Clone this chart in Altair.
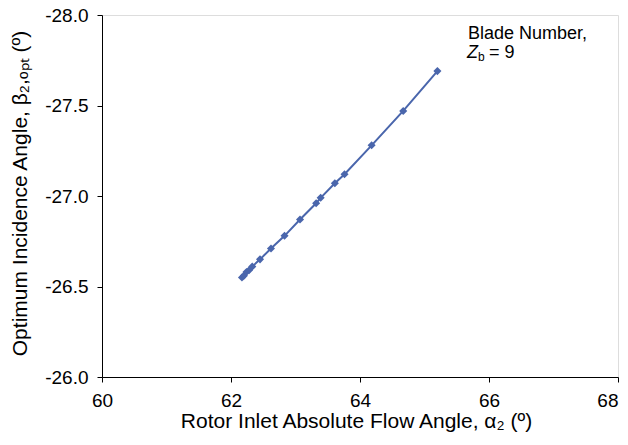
import altair as alt
import pandas as pd

alpha2 = [62.17, 62.20, 62.24, 62.28, 62.33, 62.45, 62.62, 62.83, 63.07, 63.32,
          63.39, 63.61, 63.76, 64.18, 64.67, 65.20]
beta2 = [-26.55, -26.56, -26.58, -26.59, -26.61, -26.65, -26.71, -26.78, -26.87, -26.96,
         -26.99, -27.07, -27.12, -27.28, -27.47, -27.69]
x_ticks = [60, 62, 64, 66, 68]
y_ticks = [-28.0, -27.5, -27.0, -26.5, -26.0]

df = pd.DataFrame({"a": alpha2, "b": beta2})
FONT = "Liberation Sans"
COLOR = "#4a66ac"

common = dict(grid=False, tickSize=5, labelFontSize=19, titleFontSize=21,
              titleFontWeight="normal", labelFont=FONT, titleFont=FONT,
              domainColor="black", tickColor="black", labelColor="black",
              titleColor="black", labelFlush=False)

x = alt.X("a:Q", scale=alt.Scale(domain=[60, 68], nice=False, zero=False),
          axis=alt.Axis(values=x_ticks, title="Rotor Inlet Absolute Flow Angle, α₂ (º)",
                        labelAlign={"condition": {"test": "datum.value == 68", "value": "right"},
                                    "value": "center"},
                        labelPadding=9, titleX=254, titleY=50, titleBaseline="alphabetic",
                        titleAlign="center", **common))
y = alt.Y("b:Q", scale=alt.Scale(domain=[-28, -26], reverse=True, nice=False, zero=False),
          axis=alt.Axis(values=y_ticks, labelExpr="'-' + format(-datum.value, '.1f')",
                        title="Optimum Incidence Angle, β₂,ₒₚₜ (º)",
                        labelPadding=9, titleX=-82, titleY=178, titleAngle=270,
                        titleAlign="center", titleBaseline="middle", **common))

base = alt.Chart(df)
line = base.mark_line(color=COLOR, strokeWidth=2).encode(x=x, y=y)
pts = base.mark_point(shape="diamond", filled=True, color=COLOR, size=65, opacity=1).encode(x=x, y=y)

ann = pd.DataFrame({"t": ["x"]})
def txt(t, xv, yv, size=18, style="normal"):
    return alt.Chart(ann).mark_text(text=t, align="left", baseline="alphabetic",
                                    font=FONT, fontSize=size, fontStyle=style,
                                    color="black").encode(x=alt.value(xv), y=alt.value(yv))

t1 = txt("Blade Number,", 366, 24)
t2 = txt("Z", 365, 43, style="italic")
t3 = txt("b", 376, 46, size=12)
t4 = txt("= 9", 387, 43)

chart = alt.layer(line, pts, t1, t2, t3, t4).properties(
    width=516, height=362,
    autosize=alt.AutoSizeParams(type="none"),
    padding={"left": 94, "top": 7, "right": 2, "bottom": 60},
).configure_view(stroke="black", strokeWidth=1).configure(background="white")

chart.save("out.html", embed_options={"renderer": "svg", "actions": False})
